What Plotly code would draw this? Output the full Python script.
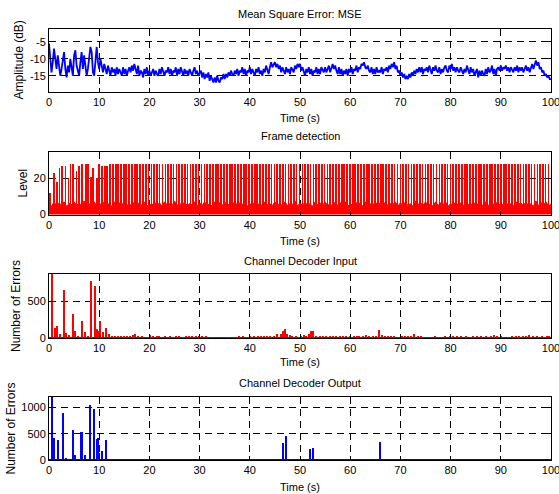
import plotly.graph_objects as go
from plotly.subplots import make_subplots

# ---------------- data ----------------
# Panel 1: Mean Square Error (dB), sampled every 0.25 s from 0 to 100 s
mse_t_step = 0.25
mse_db = [
    -5.5, -9, -14, -11, -7, -10, -13, -9, -12, -15, -13, -11, -8, -13, -15.5, -12,
    -14, -10, -12, -15, -9, -7.5, -12, -14, -15, -11, -8, -13, -9, -12, -15, -13,
    -10, -6.5, -8, -14, -15, -9, -6.5, -11, -13, -10, -12.5, -14, -11.5, -13, -14.5, -12,
    -13.5, -15, -12.5, -14, -13, -15, -12.5, -14.5, -13, -14, -15, -12.5, -14.5, -13, -15, -13.5,
    -12.5, -14, -12, -13.5, -11.5, -13, -14.5, -12, -15, -13.5, -14, -15.5, -13, -14.5, -12.5, -15,
    -13.5, -15, -14, -13, -15, -13.5, -14.5, -15, -13, -14.5, -12.5, -14, -15, -13.5, -14, -12.5,
    -14.5, -13, -15, -13.5, -14, -12.5, -15, -13, -14.5, -12.5, -14, -15, -13, -14.5, -13.5, -15,
    -13, -14, -15, -13.5, -12.5, -14.5, -13.5, -15, -14, -13.5, -15.5, -14, -16, -14.5, -15.5, -14,
    -16.5, -15, -16, -17, -15.5, -17, -15, -16.5, -17, -15.5, -16, -14.5, -16, -14.5, -15.5, -14,
    -15, -13.5, -14.5, -15, -13.5, -14.5, -13, -15, -13.5, -14, -12.5, -14.5, -13, -15, -13.5, -14,
    -12.5, -14.5, -13, -14, -15, -13, -14, -12.5, -14.5, -13.5, -15, -13, -14, -12, -13.5, -14.5,
    -12.5, -11, -12.5, -11.5, -11, -12.5, -11.5, -13, -12, -14, -12.5, -13.5, -14.5, -12.5, -14, -13,
    -14.5, -12.5, -13.5, -14, -12, -13, -11.5, -12.5, -11.5, -13.5, -12.5, -14, -15, -13, -14, -12.5,
    -14.5, -13, -15, -13.5, -14, -12.5, -14.5, -13, -14.5, -12.5, -13.5, -14, -12.5, -14, -13, -12,
    -14, -12.5, -11.5, -13, -12, -13.5, -14.5, -12.5, -14.5, -13, -15, -13.5, -14.5, -13, -15, -13,
    -14, -12.5, -14.5, -13, -13.5, -12, -14, -12.5, -13, -11.5, -12, -11, -12.5, -13, -12, -13.5,
    -14, -12.5, -14.5, -13, -14.5, -12.5, -14, -13.5, -14, -12.5, -14.5, -13, -13.5, -12.5, -14, -12,
    -13, -11.5, -12.5, -11, -13, -12, -14, -13.5, -15, -14, -15.5, -14.5, -16, -15, -16, -14.5,
    -15.5, -14, -15, -13.5, -14.5, -13, -14, -12.5, -14, -12.5, -14.5, -13, -13.5, -12.5, -14, -12,
    -13.5, -14.5, -12.5, -13.5, -12, -13.5, -14, -12.5, -14.5, -13, -14, -12.5, -12, -13.5, -14, -12,
    -13, -11.5, -13.5, -12.5, -14, -12.5, -13.5, -14, -12.5, -13.5, -14.5, -13, -14, -12, -13, -14.5,
    -12.5, -14, -13, -15, -14, -13, -15.5, -13.5, -15, -13.5, -14.5, -15, -13, -14.5, -12.5, -14,
    -13.5, -12, -14.5, -13, -15, -13, -12.5, -13.5, -12, -13.5, -12.5, -13, -12, -13.5, -12.5, -14,
    -12.5, -13.5, -14, -12.5, -13.5, -12, -14, -12.5, -13.5, -12.5, -14, -13, -12, -13.5, -12.5, -14,
    -12.5, -11.5, -13, -11.5, -10.5, -12, -11, -13, -12.5, -14, -13.5, -15, -14.5, -15.5, -15, -16,
    -16,
]
mse_t = [i * mse_t_step for i in range(len(mse_db))]

# Panel 2: Frame detection
frame_base_step = 0.5
frame_base = [
    6, 4.5, 7, 5, 6.5, 5, 7, 4.5, 6, 5.5, 7, 5, 6.5, 4.5, 7.5, 5, 6, 5, 7, 4.5,
    6.5, 5, 7, 5.5, 6, 4.5, 7, 5, 6.5, 5, 7.5, 5, 6, 4.5, 7, 5.5, 6.5, 5, 7, 4.5,
    6, 5, 7, 5, 6.5, 4.5, 7, 5.5, 6, 5, 7.5, 5, 6.5, 4.5, 7, 5, 6, 5.5, 7, 4.5,
    6.5, 5, 7, 5, 6, 4.5, 7, 5.5, 6.5, 5, 7, 5, 6, 4.5, 7.5, 5, 6.5, 5.5, 7, 4.5,
    6, 5, 7, 5, 6.5, 4.5, 7, 5.5, 6, 5, 7, 5, 6.5, 4.5, 7, 5, 6, 5.5, 7.5, 4.5,
    6.5, 5, 7, 5, 6, 4.5, 7, 5.5, 6.5, 5, 7, 5, 6, 4.5, 7, 5, 6.5, 5.5, 7, 4.5,
    6, 5, 7.5, 5, 6.5, 4.5, 7, 5.5, 6, 5, 7, 5, 6.5, 4.5, 7, 5, 6, 5.5, 7, 4.5,
    6.5, 5, 7, 5, 6, 4.5, 7.5, 5.5, 6.5, 5, 7, 5, 6, 4.5, 7, 5, 6.5, 5.5, 7, 4.5,
    6, 5, 7, 5, 6.5, 4.5, 7, 5.5, 6, 5, 7, 5, 6.5, 4.5, 7, 5, 6, 5.5, 7, 4.5,
    6.5, 5, 7, 5, 6, 4.5, 7, 5.5, 6.5, 5, 7, 5, 6, 4.5, 7.5, 5, 6.5, 5.5, 7, 4.5,
    6,
]
frame_base_t = [i * frame_base_step for i in range(len(frame_base))]

frame_peak_t = [
    0.2, 1.0, 1.6, 2.1, 2.6, 3.3, 3.9, 4.3, 4.8, 5.5, 6.0, 6.5, 7.3, 7.8, 8.4, 8.7,
    9.6, 10.0, 10.6, 11.2, 11.6, 12.2, 12.7, 13.3, 13.8, 14.3, 14.9, 15.4, 16.0,
    16.5, 17.1, 17.6, 18.2, 18.7, 19.3, 19.8,
    20.4, 20.9, 21.5, 22.0, 22.6, 23.2, 23.7, 24.3, 24.8, 25.4, 25.9, 26.5, 27.1,
    27.6, 28.2, 28.7, 29.3, 29.8, 30.4, 31.0, 31.5, 32.1, 32.6, 33.2, 33.7, 34.3,
    34.9, 35.4, 36.0, 36.5, 37.1, 37.6, 38.2, 38.8, 39.3, 39.9, 40.4, 41.0, 41.5,
    42.1, 42.7, 43.2, 43.8, 44.3, 44.9, 45.4, 46.0, 46.6, 47.1, 47.7, 48.2, 48.8,
    49.3, 49.9, 50.5, 51.0, 51.6, 52.1, 52.7, 53.2, 53.8, 54.4, 54.9, 55.5, 56.0,
    56.6, 57.1, 57.7, 58.3, 58.8, 59.4, 59.9, 60.5, 61.0, 61.6, 62.2, 62.7, 63.3,
    63.8, 64.4, 64.9, 65.5, 66.1, 66.6, 67.2, 67.7, 68.3, 68.8, 69.4, 70.0, 70.5,
    71.1, 71.6, 72.2, 72.7, 73.3, 73.9, 74.4, 75.0, 75.5, 76.1, 76.6, 77.2, 77.8,
    78.3, 78.9, 79.4, 80.0, 80.5, 81.1, 81.7, 82.2, 82.8, 83.3, 83.9, 84.4, 85.0,
    85.6, 86.1, 86.7, 87.2, 87.8, 88.3, 88.9, 89.5, 90.0, 90.6, 91.1, 91.7, 92.2,
    92.8, 93.4, 93.9, 94.5, 95.0, 95.6, 96.1, 96.7, 97.3, 97.8, 98.4, 98.9, 99.5,
]
frame_peak_h = [
    12, 23, 18, 26, 27, 27, 20, 28, 28, 24, 27, 28, 28, 28, 21, 26,
    20, 28, 27, 27, 27, 28, 28, 28, 28, 28, 28, 28, 28,
    28, 28, 28, 28, 28, 28, 28,
    28, 28, 28, 28, 28, 28, 28, 28, 28, 28, 28, 28, 28,
    28, 28, 28, 28, 28, 28, 28, 28, 28, 28, 28, 28, 28,
    28, 28, 28, 28, 28, 28, 28, 28, 28, 28, 28, 28, 28,
    28, 28, 28, 28, 28, 28, 28, 28, 28, 28, 28, 28, 28,
    28, 28, 28, 28, 28, 28, 28, 28, 28, 28, 28, 28, 28,
    28, 28, 28, 28, 28, 28, 28, 28, 28, 28, 28, 28, 28,
    28, 28, 28, 28, 28, 28, 28, 28, 28, 28, 28, 28, 28,
    28, 28, 28, 28, 28, 28, 28, 28, 28, 28, 28, 28, 28,
    28, 28, 28, 28, 28, 28, 28, 28, 28, 28, 28, 28, 28,
    28, 28, 28, 28, 28, 28, 28, 28, 28, 28, 28, 28, 28,
    28, 28, 28, 28, 28, 28, 28, 28, 28, 28, 28, 28, 28,
]

# Panel 3: Channel decoder input (number of errors)
dec_in_t = [
    0.66, 1.2, 1.7, 2.25, 3.0, 3.45, 4.05, 4.85, 5.3, 5.85, 6.5, 7.2, 7.7, 8.3,
    9.1, 9.6, 9.9, 10.2, 10.7, 11.4, 11.9, 12.5, 13.1, 13.8, 14.4, 15.0, 15.6,
    16.2, 16.8, 17.2, 17.8, 18.5, 19.3, 20.2, 20.8, 21.5, 22.0, 23.1, 24.2, 25.4,
    26.0, 27.3, 28.0, 28.6, 29.3, 30.0, 30.6, 31.2, 32.0, 37.8, 38.6, 40.0, 40.8,
    41.6, 42.2, 42.9, 43.5, 44.0, 44.8, 45.5, 46.2, 46.6, 47.0, 47.5, 48.0, 48.4,
    49.2, 50.2, 50.8, 51.3, 51.8, 52.3, 52.7, 53.2, 54.0, 54.6, 55.3, 56.0, 56.6,
    57.2, 58.0, 58.5, 59.2, 60.0, 60.8, 61.3, 61.8, 62.5, 63.2, 63.8, 64.5, 65.2,
    65.8, 66.4, 67.0, 67.6, 68.2, 68.8, 70.3, 71.0, 71.5, 72.2, 72.8, 73.5, 74.2,
    75.5, 77.0, 78.2, 79.0, 80.0, 80.6, 81.3, 82.0, 83.0, 83.8, 84.5, 85.2, 86.0,
    87.0, 88.0, 88.6, 89.2, 90.1, 91.5, 92.2, 93.0, 93.7, 94.4, 95.0, 95.6, 96.5,
    97.2, 98.3, 99.2, 99.7,
]
dec_in_n = [
    900, 144, 162, 51, 662, 70, 38, 329, 93, 24, 236, 79, 24, 778,
    718, 117, 103, 236, 79, 144, 50, 25, 20, 30, 15, 25, 20,
    30, 40, 50, 20, 15, 10, 35, 20, 25, 20, 15, 25, 30,
    15, 20, 25, 15, 20, 15, 25, 30, 10, 15, 20, 25, 15,
    30, 20, 15, 25, 30, 20, 50, 60, 100, 130, 60, 40, 30,
    25, 30, 40, 25, 50, 90, 100, 30, 15, 20, 25, 20, 30,
    15, 20, 30, 20, 15, 25, 20, 30, 20, 40, 20, 15, 30,
    110, 40, 25, 20, 15, 20, 30, 20, 30, 15, 50, 20, 15,
    10, 15, 10, 20, 15, 20, 15, 20, 15, 10, 20, 15, 20,
    15, 20, 40, 30, 15, 10, 15, 20, 25, 15, 30, 40, 20,
    30, 15, 30, 20,
]

# Panel 4: Channel decoder output (number of errors)
dec_out_t = [0.66, 1.06, 1.8, 2.9, 3.5, 4.8, 5.3, 6.4, 6.6, 7.2, 8.3, 9.1, 9.55,
             9.9, 10.0, 10.7, 11.4, 46.7, 47.3, 52.1, 52.65, 65.9]
dec_out_n = [1250, 410, 390, 888, 32, 564, 95, 540, 540, 95, 1045, 963, 399,
             424, 127, 171, 380, 317, 456, 209, 228, 348]

titles = ["Mean Square Error: MSE", "Frame detection",
          "Channel Decoder Input", "Channel Decoder Output"]
ylabels = ["Amplitude (dB)", "Level", "Number of Errors", "Number of Errors"]
xlabel = "Time (s)"
x_ticks = [0, 10, 20, 30, 40, 50, 60, 70, 80, 90, 100]
y_ticks = [[-15, -10, -5], [0, 20], [0, 500], [0, 500, 1000]]
y_ranges = [[-19.8, -1.2], [-0.3, 34.6], [0, 880], [0, 1200]]

# ---------------- layout geometry (pixels) ----------------
W, H = 559, 494
PL, PR, PT, PB = 49, 551, 29, 460          # outer plot-area box in pixels
PW, PH = PR - PL, PB - PT
panels = [(29, 92), (152, 215), (274, 338), (397, 460)]  # top, bottom
title_y = [14, 136, 261, 383]
xlab_y = [118, 241, 362, 487]
ylab_x = [18, 22, 16, 10]


def px_x(p):
    return (p - PL) / PW


def px_y(p):
    return (PB - p) / PH


FONT = "Liberation Sans, Arial, Helvetica, sans-serif"
BLUE = "#0000FF"
RED = "#FF0000"

fig = make_subplots(rows=4, cols=1)

fig.add_trace(go.Scatter(x=mse_t, y=mse_db, mode="lines",
                         line=dict(color=BLUE, width=1.8)), row=1, col=1)

fig.add_trace(go.Scatter(x=frame_base_t, y=frame_base, mode="lines",
                         line=dict(color=RED, width=1), fill="tozeroy",
                         fillcolor=RED), row=2, col=1)
fig.add_trace(go.Bar(x=frame_peak_t, y=frame_peak_h, width=0.15,
                     marker=dict(color=RED, line=dict(width=0))), row=2, col=1)

fig.add_trace(go.Bar(x=dec_in_t, y=dec_in_n, width=0.25,
                     marker=dict(color=RED, line=dict(width=0))), row=3, col=1)
fig.add_trace(go.Scatter(x=[0, 100], y=[0, 0], mode="lines",
                         line=dict(color="#CC0000", width=2)), row=3, col=1)

fig.add_trace(go.Bar(x=dec_out_t, y=dec_out_n, width=0.3,
                     marker=dict(color=BLUE, line=dict(width=0))), row=4, col=1)
fig.add_trace(go.Scatter(x=[0, 100], y=[0, 0], mode="lines",
                         line=dict(color=BLUE, width=2)), row=4, col=1)

axis_common = dict(
    showline=True, linecolor="black", linewidth=1, mirror="ticks",
    ticks="inside", ticklen=4, tickcolor="black", automargin=False,
    showgrid=True, gridcolor="black", gridwidth=1, griddash="7px,5px",
    zeroline=False, tickfont=dict(family=FONT, size=11, color="black"),
    ticklabeloverflow="allow",
)

for i in range(4):
    top, bot = panels[i]
    fig.update_xaxes(axis_common, row=i + 1, col=1,
                     domain=[0, 1], range=[0, 100],
                     tickvals=x_ticks, ticktext=[str(v) for v in x_ticks])
    fig.update_yaxes(axis_common, row=i + 1, col=1,
                     domain=[px_y(bot), px_y(top)], range=y_ranges[i],
                     tickvals=y_ticks[i], ticktext=[str(v) for v in y_ticks[i]])

annotations = []
cx = px_x((PL + PR) / 2)
for i in range(4):
    top, bot = panels[i]
    annotations.append(dict(text=titles[i], x=cx, y=px_y(title_y[i]),
                            xref="paper", yref="paper",
                            showarrow=False, xanchor="center", yanchor="middle",
                            font=dict(family=FONT, size=11, color="black")))
    annotations.append(dict(text=xlabel, x=cx, y=px_y(xlab_y[i]),
                            xref="paper", yref="paper",
                            showarrow=False, xanchor="center", yanchor="middle",
                            font=dict(family=FONT, size=11, color="black")))
    annotations.append(dict(text=ylabels[i], x=px_x(ylab_x[i]),
                            y=px_y((top + bot) / 2), xref="paper", yref="paper",
                            showarrow=False, xanchor="center", yanchor="middle",
                            textangle=-90,
                            font=dict(family=FONT, size=12, color="black")))

fig.update_layout(
    width=W, height=H,
    margin=dict(l=PL, r=W - PR, t=PT, b=H - PB, autoexpand=False),
    paper_bgcolor="white", plot_bgcolor="white",
    showlegend=False, annotations=annotations, bargap=0,
)

fig.write_html(
    "out.html",
    config={"displayModeBar": False},
    post_script="document.body.style.margin='0px';"
                "document.body.style.overflow='hidden';",
)
